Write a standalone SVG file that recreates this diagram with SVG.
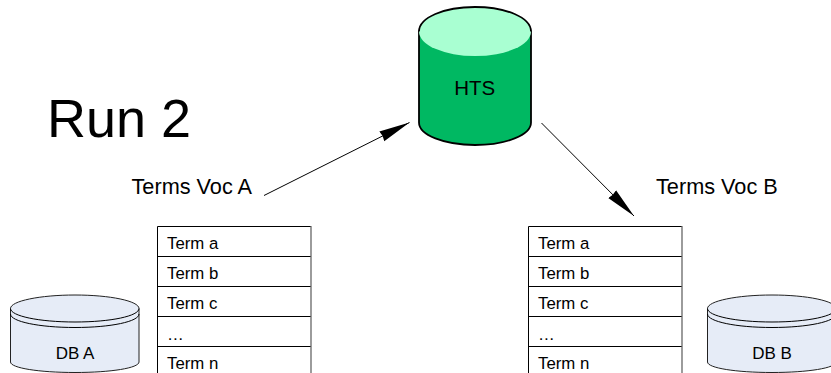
<svg xmlns="http://www.w3.org/2000/svg" width="831" height="373" viewBox="0 0 831 373">
<style>
text{font-family:"Liberation Sans",Arial,sans-serif;fill:#000}
.t{font-size:17px}
.l{font-size:21.700px}
.term{font-size:16.800px}
.rule{stroke:#000;stroke-width:1;fill:none}
.side{stroke:#666;stroke-width:1.300;fill:none}
.db{fill:#e6ecf7;stroke:#222;stroke-width:1}
.dbl{fill:none;stroke:#000;stroke-width:1}
.conn{stroke:#000;stroke-width:1;fill:none}
</style>
<defs>
<marker id="arrow" markerUnits="userSpaceOnUse" markerWidth="32" markerHeight="16" refX="31" refY="8" orient="auto">
<path d="M1 8L0 2.500L31 8L0 13.500Z" fill="#000"/>
</marker>
</defs>
<rect width="831" height="373" fill="#fff"/>
<g id="title"><text x="47" y="137" style="font-size:54px">Run 2</text></g>
<g id="hts">
<path d="M419 31.500V122.500C419 135 444 145 475 145S531 135 531 122.500V31.500Z" fill="#00b862" stroke="#000" stroke-width="1.800"/>
<ellipse cx="475" cy="31.500" rx="56" ry="24.500" fill="#a9ffd2"/>
<path d="M419 31.500C419 17.500 444 7 475 7S531 17.500 531 31.500" fill="none" stroke="#000" stroke-width="1.800"/>
<text x="474.700" y="94.500" text-anchor="middle" style="font-size:20.500px">HTS</text>
</g>
<g id="label-a"><text x="131.500" y="194" class="l">Terms Voc A</text></g>
<g id="label-b"><text x="656" y="194" class="l">Terms Voc B</text></g>
<g id="connectors">
<line class="conn" x1="264" y1="195.500" x2="409.500" y2="122.500" marker-end="url(#arrow)"/>
<line class="conn" x1="541.500" y1="123" x2="634" y2="216" marker-end="url(#arrow)"/>
</g>
<g id="table-a">
<path class="rule" d="M157.500 373V226.500H311M157.500 256.500H311M157.500 286.500H311M157.500 316.500H311M157.500 346.500H311"/>
<path class="side" d="M311 226V373"/>
<text x="167" y="249" class="term">Term a</text>
<text x="167" y="279" class="term">Term b</text>
<text x="167" y="309" class="term">Term c</text>
<text x="167" y="340" class="term">…</text>
<text x="167" y="369" class="term">Term n</text>
</g>
<g id="table-b">
<path class="rule" d="M528.500 373V226.500H682M528.500 256.500H682M528.500 286.500H682M528.500 316.500H682M528.500 346.500H682"/>
<path class="side" d="M682 226V373"/>
<text x="538" y="249" class="term">Term a</text>
<text x="538" y="279" class="term">Term b</text>
<text x="538" y="309" class="term">Term c</text>
<text x="538" y="340" class="term">…</text>
<text x="538" y="369" class="term">Term n</text>
</g>
<g id="db-a">
<path class="db" d="M10.500 308.500V362C10.500 368 39 372.500 75 372.500S139 368 139 362V308.500C139 301 110 295 75 295S10.500 301 10.500 308.500Z"/>
<path class="dbl" d="M10.500 308.500C10.500 316 39 322 75 322S139 316 139 308.500M10.500 314C10.500 321.500 39 327.500 75 327.500S139 321.500 139 314"/>
<text x="75" y="359" text-anchor="middle" class="t">DB A</text>
</g>
<g id="db-b">
<path class="db" d="M707.500 308.500V362C707.500 368 736 372.500 772 372.500S836 368 836 362V308.500C836 301 807 295 772 295S707.500 301 707.500 308.500Z"/>
<path class="dbl" d="M707.500 308.500C707.500 316 736 322 772 322S836 316 836 308.500M707.500 314C707.500 321.500 736 327.500 772 327.500S836 321.500 836 314"/>
<text x="772" y="359" text-anchor="middle" class="t">DB B</text>
</g>
</svg>
